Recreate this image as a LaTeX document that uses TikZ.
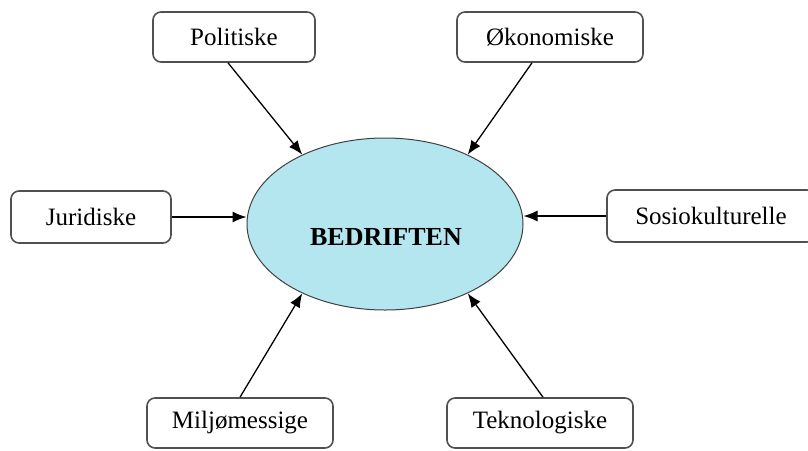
\documentclass[tikz,border=0pt]{standalone}
\usepackage{fontspec}
\setmainfont{Liberation Serif}
\usetikzlibrary{positioning,arrows.meta,shapes.geometric}
\definecolor{firmblue}{HTML}{B4E6F0}
\definecolor{boxgray}{HTML}{505050}

\begin{document}
\begin{tikzpicture}[x=0.5pt, y=-0.5pt,
        fb/.style={draw=boxgray, line width=0.8pt, rounded corners=4pt, fill=white, align=center,
          font=\fontsize{12.5}{15}\selectfont, minimum height=25pt, inner sep=0pt},
        arr/.style={-{Latex[length=7pt, width=5.5pt]}, line width=0.65pt}]
      \useasboundingbox (0,0) rectangle (808,450);
      \node[ellipse, draw=black!75, line width=0.5pt, fill=firmblue, minimum width=138pt, minimum height=86pt, inner sep=0pt] (bed) at (385,224) {};
      \node[font=\fontsize{13}{15}\selectfont\bfseries] (bedtxt) at (386,237) {BEDRIFTEN};
      \node[fb, minimum width=81pt] (pol) at (234,37) {Politiske};
      \node[fb, minimum width=93pt] (oko) at (550,37) {Økonomiske};
      \node[fb, minimum width=80pt, minimum height=26pt] (jur) at (91,217) {Juridiske};
      \node[fb, minimum width=104pt, minimum height=26pt] (sos) at (711,216) {Sosiokulturelle};
      \node[fb, minimum width=93pt] (mil) at (240,423) {Miljømessige};
      \node[fb, minimum width=93pt] (tek) at (540,423) {Teknologiske};
      \draw[arr] ([xshift=-3pt]pol.south) -- (bed.140); \draw[arr] ([xshift=-9pt]oko.south) -- (bed.40);
      \draw[arr] (jur.east) -- (jur.east -| bed.west); \draw[arr] (sos.west) -- (sos.west -| bed.east);
      \draw[arr] (mil.north) -- (bed.220); \draw[arr] ([xshift=1.5pt]tek.north) -- (bed.320);
      \end{tikzpicture}
\end{document}
